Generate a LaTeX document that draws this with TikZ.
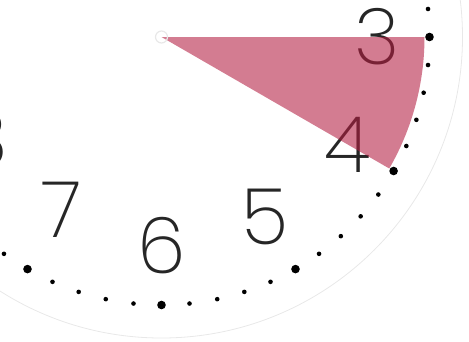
\documentclass[tikz,border=0pt]{standalone}
\usepackage{fontspec}
\setmainfont{Poppins ExtraLight}
\usetikzlibrary{calc}
\definecolor{wedgered}{RGB}{180,30,65}
\definecolor{rimgray}{RGB}{232,232,232}

\begin{document}
\begin{tikzpicture}[
  x=1pt, y=1pt,
  numeral/.style={font=\fontsize{78}{78}\selectfont, text=black!85, inner sep=0pt},
  tick/.style={fill=black},
  slice/.style={fill=wedgered, fill opacity=0.58}
]
  \useasboundingbox (0,0) rectangle (469,-341);
  \coordinate (C) at (161.5,-37);
  \draw[rimgray, line width=0.8] (C) circle[radius=301];
  % numerals
  \foreach \h/\rr in {1/212,2/212,3/216,4/215,5/208,6/209,7/200,8/205,9/212,10/212,11/212,12/212}
    \node[numeral] (n\h) at ($(C)+({90-30*\h}:\rr)$) {\h};
  % wedge from 3 to 4
  \fill[slice] (C) -- ++(0:263) arc[start angle=0, end angle=-30, radius=263] -- cycle;
  % minute dots
  \foreach \m in {0,...,59}{
    \pgfmathsetmacro{\r}{mod(\m,5)==0 ? 4.3 : 2.3}
    \fill[tick] ($(C)+(6*\m:268)$) circle[radius=\r];
  }
  \draw[rimgray, line width=1.2] (C) circle[radius=6];
\end{tikzpicture}
\end{document}
